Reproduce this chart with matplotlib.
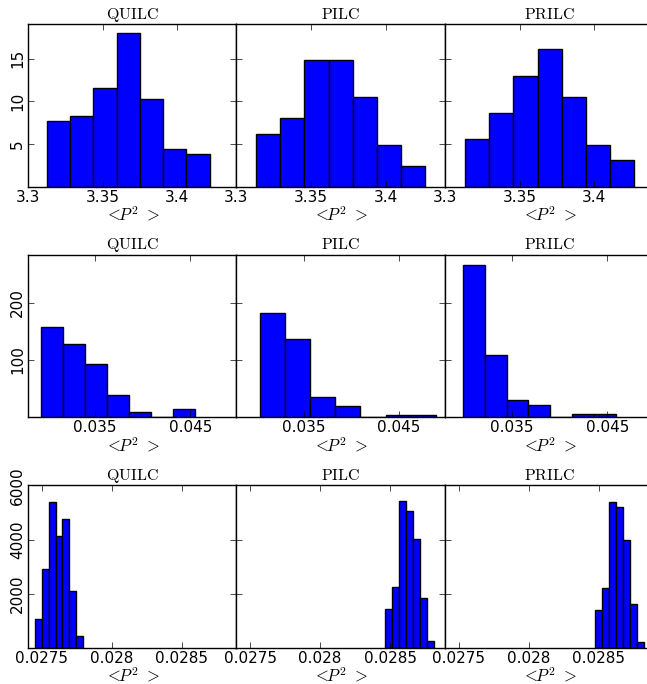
import numpy as np
import matplotlib
matplotlib.use("Agg")
import matplotlib.pyplot as plt

plt.style.use("classic")
plt.rcParams["mathtext.fontset"] = "cm"
plt.rcParams["font.size"] = 10

methods = ["QUILC", "PILC", "PRILC"]

# row 1: histogram heights and bin ranges (lo, hi)
row1_counts = [
    [7.75, 8.34, 11.56, 17.97, 10.26, 4.48, 3.82],
    [6.18, 8.07, 14.86, 14.86, 10.5, 4.92, 2.48],
    [5.59, 8.66, 13.02, 16.12, 10.5, 4.92, 3.11],
]
row1_ranges = [(3.3126, 3.4217), (3.3132, 3.4262), (3.3136, 3.4266)]

# row 2
row2_counts = [
    [157.5, 127.0, 92.3, 39.5, 9.4, 0.0, 14.0],
    [182.4, 136.6, 34.8, 19.8, 0.0, 4.0, 4.0],
    [265.5, 109.2, 30.3, 22.1, 0.0, 5.2, 5.2],
]
row2_ranges = [(0.02932, 0.04546), (0.03037, 0.04893), (0.02981, 0.04595)]

# row 3
row3_counts = [
    [1053, 2920, 5388, 4147, 4773, 2085, 416],
    [1422, 2232, 5436, 5043, 4026, 1827, 232],
    [1410, 2207, 5388, 5190, 3989, 1606, 218],
]
row3_ranges = [(0.027452, 0.027794), (0.0284665, 0.0288153), (0.0284765, 0.0288254)]

rows = [
    (row1_counts, row1_ranges, (3.3, 3.4396), (0, 19), [3.3, 3.35, 3.4], ["3.3", "3.35", "3.4"], [5, 10, 15]),
    (row2_counts, row2_ranges, (0.02795, 0.04985), (0, 283), [0.035, 0.045], ["0.035", "0.045"], [100, 200]),
    (row3_counts, row3_ranges, (0.027402, 0.028892), (0, 6000), [0.0275, 0.028, 0.0285],
     ["0.0275", "0.028", "0.0285"], [2000, 4000, 6000]),
]

fig, axes = plt.subplots(3, 3, figsize=(6.47, 6.84), dpi=100, sharey="row")
fig.patch.set_facecolor("white")
fig.subplots_adjust(left=0.0433, right=1.0099, bottom=0.053, top=0.9642, wspace=0, hspace=0.42)

for r, (counts, ranges, xlim, ylim, xt, xtl, yt) in enumerate(rows):
    for c in range(3):
        ax = axes[r, c]
        lo, hi = ranges[c]
        edges = np.linspace(lo, hi, len(counts[c]) + 1)
        ax.hist(edges[:-1], bins=edges, weights=counts[c], color="b", edgecolor="k", linewidth=1)
        ax.set_xlim(*xlim)
        ax.set_ylim(*ylim)
        ax.set_xticks(xt)
        ax.set_xticklabels(xtl)
        ax.set_yticks(yt)
        ax.tick_params(axis="y", labelrotation=90)
        ax.tick_params(labelsize=11, pad=2)
        ax.set_title(r"$\mathrm{%s}$" % methods[c], fontsize=11.5, pad=4)
        ax.set_xlabel(r"$<\!\!P^2\ >$", fontsize=12, labelpad=1)

fig.savefig("out.png", dpi=100, facecolor="white")
